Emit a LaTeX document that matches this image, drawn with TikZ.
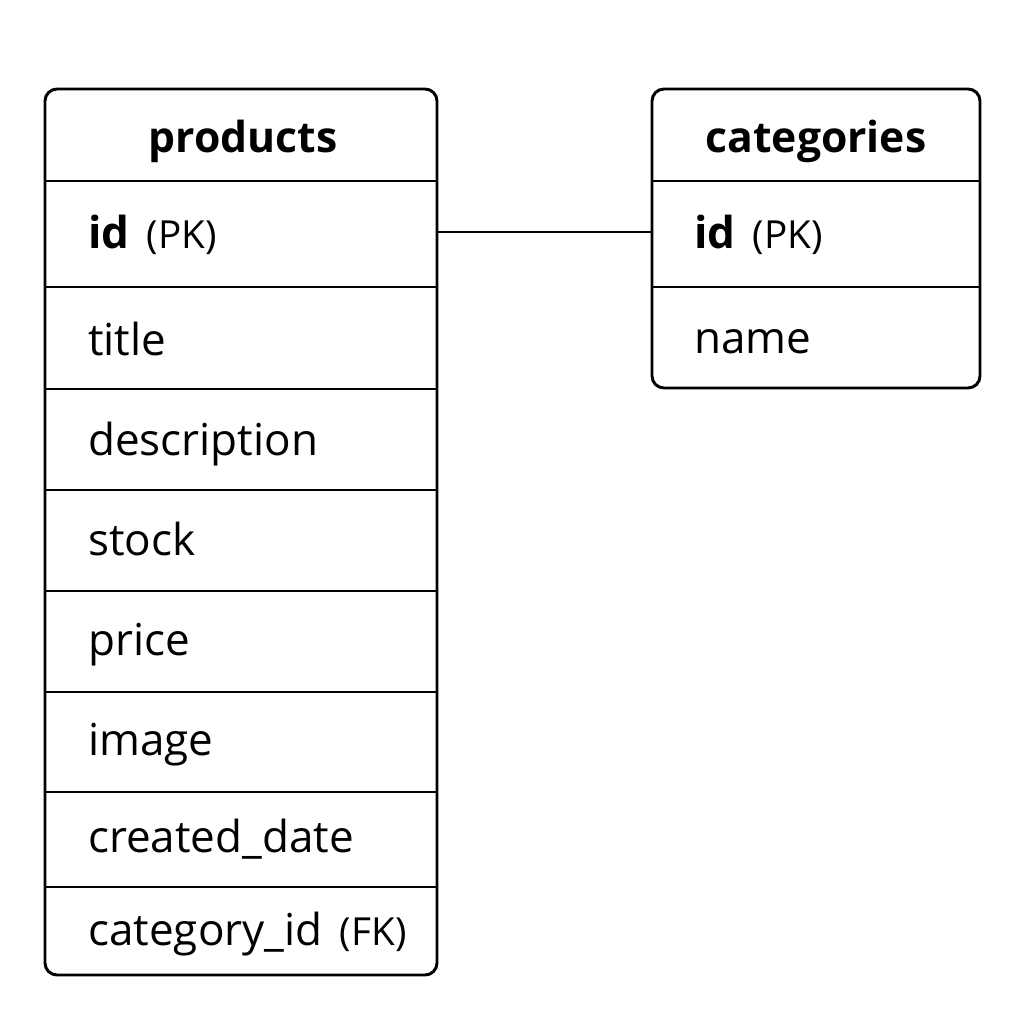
\documentclass[tikz,border=0pt]{standalone}
\usepackage{fontspec}
\setmainfont{Open Sans}
\newcommand\fldfont{\fontsize{33}{40}\selectfont}
\newcommand\headfont{\fontsize{32}{40}\selectfont\bfseries}
\newcommand\keyfont{\fontsize{29}{34}\selectfont}
\tikzset{
  tblline/.style={line width=2.2pt},
  fldtext/.style={anchor=base west, inner sep=0pt, font=\fldfont},
  headtext/.style={anchor=base, inner sep=0pt, font=\headfont},
}
\begin{document}
\begin{tikzpicture}[x=0.75pt,y=0.75pt,yscale=-1,xscale=1]
\path[use as bounding box] (0,0) rectangle (1024,1024); %keep the page square

%Shape: Rounded Rectangle [products]
\draw [tblline, rounded corners=9pt] (45,89) rectangle (437,975) ;
%Straight Lines [products rows]
\draw [tblline] (45,181) -- (437,181) ;
\draw [tblline] (45,287) -- (437,287) ;
\draw [tblline] (45,389) -- (437,389) ;
\draw [tblline] (45,490) -- (437,490) ;
\draw [tblline] (45,591) -- (437,591) ;
\draw [tblline] (45,692) -- (437,692) ;
\draw [tblline] (45,792) -- (437,792) ;
\draw [tblline] (45,887) -- (437,887) ;

%Shape: Rounded Rectangle [categories]
\draw [tblline, rounded corners=9pt] (652,89) rectangle (980,388) ;
%Straight Lines [categories rows]
\draw [tblline] (652,181) -- (980,181) ;
\draw [tblline] (652,287) -- (980,287) ;

%Connector ends
\coordinate (prodid) at (437,232) ;
\coordinate (catid) at (652,232) ;
%Straight Lines [relation]
\draw [line width=1.6pt] (prodid) -- (catid) ;

% Text Node
\draw (243,152) node (prodhead) [headtext] {products};
% Text Node
\draw (816,152) node (cathead) [headtext] {categories};
% Text Node
\draw (88,248) node (prodpk) [fldtext] {\textbf{id}\hspace{13pt}{\keyfont (PK)}};
% Text Node
\draw (88,355) node (title) [fldtext] {title};
% Text Node
\draw (88,455) node (descr) [fldtext] {description};
% Text Node
\draw (88,555) node (stock) [fldtext] {stock};
% Text Node
\draw (88,655) node (price) [fldtext] {price};
% Text Node
\draw (88,755) node (image) [fldtext] {image};
% Text Node
\draw (88,852) node (created) [fldtext] {created\_date};
% Text Node
\draw (88,945) node (catfk) [fldtext] {category\_id\hspace{13pt}{\keyfont (FK)}};
% Text Node
\draw (694,248) node (catpk) [fldtext] {\textbf{id}\hspace{13pt}{\keyfont (PK)}};
% Text Node
\draw (694,353) node (name) [fldtext] {name};
\end{tikzpicture}
\end{document}
